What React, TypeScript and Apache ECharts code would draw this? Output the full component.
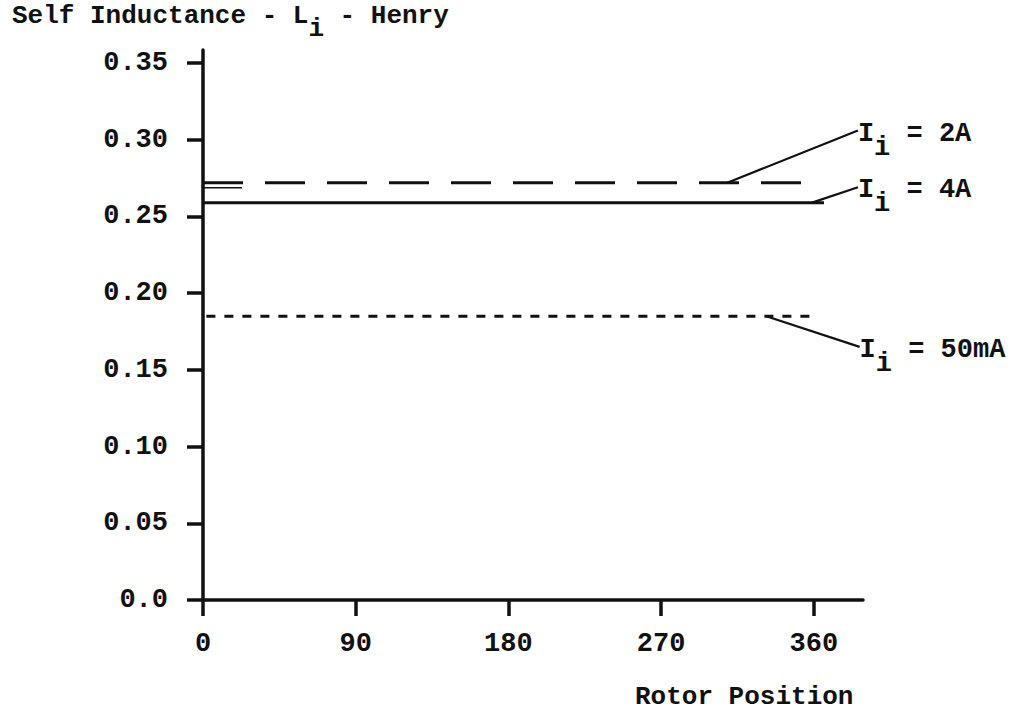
import React, { useEffect, useRef } from "react";
import * as echarts from "echarts";

// Axis ticks
const rotorTicks = [0, 90, 180, 270, 360];
const inductanceTicks = [0, 0.05, 0.1, 0.15, 0.2, 0.25, 0.3, 0.35];
const inductanceTickLabels = ["0.0", "0.05", "0.10", "0.15", "0.20", "0.25", "0.30", "0.35"];

// Measured self inductance (H) against rotor position (deg) for three currents
const rotor2A = [0, 90, 180, 270, 363];
const henry2A = [0.272, 0.272, 0.272, 0.272, 0.272];
const rotor4A = [0, 90, 180, 270, 366];
const henry4A = [0.259, 0.259, 0.259, 0.259, 0.259];
const rotor50mA = [2, 90, 180, 270, 362];
const henry50mA = [0.185, 0.185, 0.185, 0.185, 0.185];
// faint second trace under the start of the 2A curve
const rotor2ATrace = [0, 23];
const henry2ATrace = [0.2687, 0.2687];

const currentLabels = ["2A", "4A", "50mA"];
// rotor position where each leader leaves its curve, and where its label sits
const leaderFromRotor = [309, 359, 332];
const labelAtRotor = [386, 386, 387];
const labelAtHenry = [0.306, 0.269, 0.165];

const INK = "#111";
const MONO = '"Liberation Mono", "DejaVu Sans Mono", monospace';
const PITCH = 0.6; // monospace advance per em

const zip = (xs: number[], ys: number[]) => xs.map((x, i) => [x, ys[i]]);

export default function App() {
  const ref = useRef<HTMLDivElement>(null);

  useEffect(() => {
    if (!ref.current) return;
    const chart = echarts.init(ref.current, null, { renderer: "svg" });

    const tickFont = {
      color: INK,
      fontFamily: MONO,
      fontWeight: "bold",
      fontSize: 27,
    };

    const option: any = {
      animation: false,
      backgroundColor: "#fff",
      grid: { left: 203, top: 50, width: 660, height: 550, containLabel: false, outerBoundsMode: "none" },
      xAxis: {
        type: "value",
        min: 0,
        max: 389,
        interval: 90,
        axisLine: { show: true, lineStyle: { color: INK, width: 3.5 } },
        axisTick: { show: true, length: 16, customValues: rotorTicks, lineStyle: { color: INK, width: 3.5 } },
        axisLabel: {
          ...tickFont,
          customValues: rotorTicks,
          margin: 30,
          formatter: (v: number) => String(v),
        },
        splitLine: { show: false },
      },
      yAxis: {
        type: "value",
        min: 0,
        max: 0.3585,
        interval: 0.05,
        axisLine: { show: true, lineStyle: { color: INK, width: 3.5 } },
        axisTick: { show: true, length: 16, customValues: inductanceTicks, lineStyle: { color: INK, width: 3.5 } },
        axisLabel: {
          ...tickFont,
          customValues: inductanceTicks,
          margin: 35,
          formatter: (v: number) => {
            const i = inductanceTicks.findIndex((t) => Math.abs(t - v) < 1e-6);
            return i >= 0 ? inductanceTickLabels[i] : "";
          },
        },
        splitLine: { show: false },
      },
      series: [
        {
          name: "2A",
          type: "line",
          data: zip(rotor2A, henry2A),
          symbol: "none",
          lineStyle: { color: INK, width: 3, type: [40, 22] },
        },
        {
          name: "2A trace",
          type: "line",
          data: zip(rotor2ATrace, henry2ATrace),
          symbol: "none",
          lineStyle: { color: INK, width: 1.4 },
        },
        {
          name: "4A",
          type: "line",
          data: zip(rotor4A, henry4A),
          symbol: "none",
          lineStyle: { color: INK, width: 3 },
        },
        {
          name: "50mA",
          type: "line",
          data: zip(rotor50mA, henry50mA),
          symbol: "none",
          lineStyle: { color: INK, width: 3, type: [9, 9] },
        },
      ],
    };
    chart.setOption(option);

    const curveHenry = [henry2A[0], henry4A[0], henry50mA[0]];
    const graphic: any[] = [];

    const textEl = (text: string, x: number, y: number, size: number) => ({
      type: "text",
      x,
      y,
      silent: true,
      style: {
        text,
        fill: INK,
        font: `bold ${size}px ${MONO}`,
        align: "left",
        verticalAlign: "middle",
        textAlign: "left",
        textVerticalAlign: "middle",
      },
    });

    // y-axis title with a lowered subscript, laid out on the monospace grid
    const tSize = 26;
    const tPitch = tSize * PITCH;
    const tX = 12;
    const tY = 16;
    graphic.push(textEl("Self Inductance - L", tX, tY, tSize));
    graphic.push(textEl("i", tX + 19 * tPitch, tY + 13, tSize));
    graphic.push(textEl("- Henry", tX + 21 * tPitch, tY, tSize));
    // x-axis title
    graphic.push(textEl("Rotor Position", 635, 697, tSize));

    // current labels with leader lines
    const lSize = 27;
    const lPitch = lSize * PITCH;
    currentLabels.forEach((lab, k) => {
      const from = chart.convertToPixel({ gridIndex: 0 }, [leaderFromRotor[k], curveHenry[k]]) as number[];
      const to = chart.convertToPixel({ gridIndex: 0 }, [labelAtRotor[k], labelAtHenry[k]]) as number[];
      graphic.push({
        type: "line",
        silent: true,
        shape: { x1: from[0], y1: from[1], x2: to[0], y2: to[1] },
        style: { stroke: INK, lineWidth: 2.2 },
      });
      graphic.push(textEl("I", to[0], to[1] + 3, lSize));
      graphic.push(textEl("i", to[0] + lPitch, to[1] + 17, lSize));
      graphic.push(textEl("= " + lab, to[0] + 3 * lPitch, to[1] + 3, lSize));
    });

    chart.setOption({ graphic });

    return () => chart.dispose();
  }, []);

  return (
    <div
      ref={ref}
      style={{ position: "fixed", left: 0, top: 0, width: 1018, height: 712, background: "#fff" }}
    />
  );
}
